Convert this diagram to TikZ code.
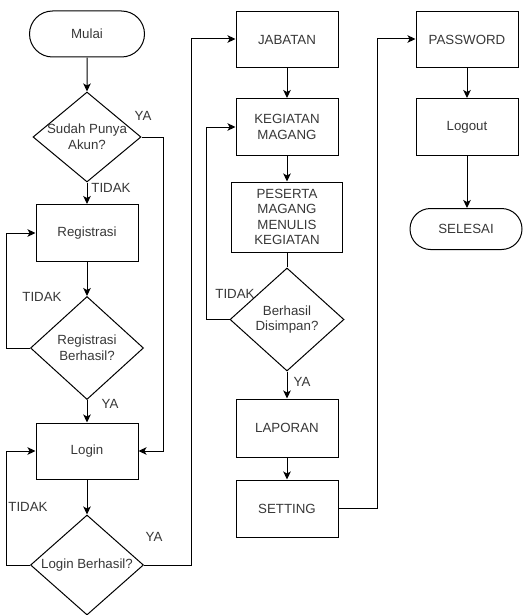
\documentclass[tikz,border=0pt]{standalone}
\usepackage{fontspec}
\setmainfont{Liberation Sans}
\usetikzlibrary{shapes.geometric,shapes.misc,arrows.meta}
\definecolor{txt}{RGB}{55,55,55}
\tikzset{
  base/.style={draw=black, line width=1pt, text=txt, font=\fontsize{13.3}{15.6}\selectfont, align=center, inner sep=0pt},
  proc/.style={base, rectangle, minimum width=102pt, minimum height=57pt},
  term/.style={base, rounded rectangle, minimum width=#1, minimum height=44pt},
  dec/.style={base, diamond, minimum width=113pt, minimum height=103pt},
  lbl/.style={text=txt, font=\fontsize{13.3}{15.6}\selectfont, inner sep=0pt},
  conn/.style={draw=black, line width=1pt, -{Stealth[length=8pt,width=7.5pt,inset=2pt]}},
  plain/.style={draw=black, line width=1pt},
}
\begin{document}
\begin{tikzpicture}[x=1pt,y=-1pt]
\useasboundingbox (0,0) rectangle (522,615);
% column 1
\node[term=115pt, minimum height=46pt] (mulai) at (87,34) {Mulai};
\node[dec, minimum width=108pt, minimum height=90pt, label={[lbl,align=center]center:Sudah Punya\\Akun?}] (d1) at (87,137) {};
\node[proc] (reg) at (87,233) {Registrasi};
\node[dec, label={[lbl,align=center]center:Registrasi\\Berhasil?}] (d2) at (87,348) {};
\node[proc, minimum height=56pt] (login) at (87,451) {Login};
\node[dec, minimum height=100pt, label={[lbl]center:Login Berhasil?}] (d3) at (87,565) {};
% column 2
\node[proc, minimum height=56pt] (jab) at (287,40) {JABATAN};
\node[proc] (keg) at (287,127) {KEGIATAN\\MAGANG};
\node[proc, minimum width=111pt, minimum height=70pt] (pes) at (287,217) {PESERTA\\MAGANG\\MENULIS\\KEGIATAN};
\node[dec, minimum width=114pt, label={[lbl,align=center]center:Berhasil\\Disimpan?}] (d4) at (287,319.5) {};
\node[proc, minimum height=58pt] (lap) at (287,428) {LAPORAN};
\node[proc] (set) at (287,508.5) {SETTING};
% column 3
\node[proc, minimum height=56pt] (pass) at (467,40) {PASSWORD};
\node[proc] (logout) at (467,127) {Logout};
\node[term=112pt, minimum height=41pt] (selesai) at (466,229) {SELESAI};
% labels
\node[lbl] (ya1) at (143,116) {YA};
\node[lbl] (ti1) at (111,188) {TIDAK};
\node[lbl] (ti2) at (42,297) {TIDAK};
\node[lbl] (ya2) at (110,404) {YA};
\node[lbl] (ti3) at (28,507) {TIDAK};
\node[lbl] (ya3) at (154,537) {YA};
\node[lbl] (ti4) at (235,294) {TIDAK};
\node[lbl] (ya4) at (302,382) {YA};
% connectors
\draw[conn] (mulai) -- (d1);
\draw[conn] (d1) -- (reg);
\draw[conn] (reg) -- (d2);
\draw[conn] (d2.west) -- ++(-24,0) |- (reg.west);
\draw[conn] (d2) -- (login);
\draw[conn] (d1.east) -- ++(22,0) |- (login.east);
\draw[conn] (login) -- (d3);
\draw[conn] (d3.west) -- ++(-24,0) |- (login.west);
\draw[conn] (d3.east) -- ++(47,0) |- ([yshift=1pt]jab.west);
\draw[conn] (jab) -- (keg);
\draw[conn] (keg) -- (pes);
\draw[plain] (pes) -- (d4);
\draw[conn] (d4.west) -- ++(-23,0) |- (keg.west);
\draw[conn] (d4) -- (lap);
\draw[conn] (lap) -- (set);
\draw[conn] (set.east) -- ++(39,0) |- ([yshift=1pt]pass.west);
\draw[conn] (pass) -- (logout);
\draw[conn] (logout.south) -- (logout.south |- selesai.north);
\end{tikzpicture}
\end{document}
